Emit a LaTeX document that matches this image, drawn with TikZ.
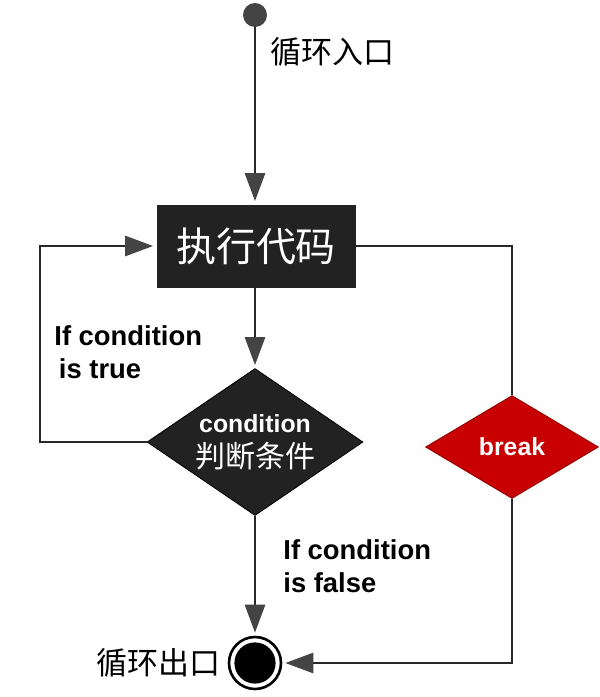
\documentclass[tikz,border=0pt]{standalone}
\usepackage{fontspec}
\setmainfont{Liberation Sans}
\newfontfamily\cjk{Noto Sans CJK SC}
\usetikzlibrary{shapes.geometric, positioning, arrows.meta}
\definecolor{lineclr}{RGB}{40,40,40}
\definecolor{headclr}{RGB}{68,68,68}
\definecolor{boxclr}{RGB}{34,34,34}
\definecolor{breakclr}{RGB}{200,0,0}

\begin{document}
\begin{tikzpicture}[x=0.5pt, y=-0.5pt,
        line/.style={draw=lineclr, line width=1.4pt},
        flow/.style={line, shorten >=1.5pt, -{Triangle[length=14pt, width=10pt, color=headclr]}},
        codebox/.style={rectangle, fill=boxclr, text=white, minimum width=99.5pt,
                minimum height=41.5pt, inner sep=0pt, font=\cjk\fontsize{20pt}{22pt}\selectfont},
        conddiamond/.style={diamond, fill=boxclr, draw=black, thin, text=white, aspect=1.47,
                minimum width=108pt, minimum height=73.5pt, inner sep=0pt, align=center,
                font=\fontsize{12.4pt}{17.5pt}\selectfont},
        breakdiamond/.style={diamond, fill=breakclr, draw=breakclr!70!black, thin, text=white, aspect=1.68,
                minimum width=86.5pt, minimum height=51.5pt, inner sep=0pt,
                font=\bfseries\fontsize{12.4pt}{14pt}\selectfont},
        condlabel/.style={align=left, inner sep=0pt, font=\bfseries\fontsize{13.7pt}{16.5pt}\selectfont},
        cjklabel/.style={inner sep=0pt, font=\cjk\fontsize{15.5pt}{17pt}\selectfont}]
        \useasboundingbox (0,0) rectangle (600,697);

        % Nodes
        \node[circle, fill=headclr, minimum size=12pt, inner sep=0pt] (start) at (255,15) {};
        \node[cjklabel, anchor=west] (inlabel) at (270,52) {循环入口};
        \node[codebox] (code) at (256,246) {执行代码};
        \node[conddiamond] (cond) at (255,442) {\textbf{condition}\\
                {\cjk\fontsize{15pt}{17.5pt}\selectfont 判断条件}};
        \node[breakdiamond] (brk) at (512,447) {break};
        \node[circle, draw=black, line width=1.3pt, minimum size=26pt, inner sep=0pt,
                path picture={\fill[black] (path picture bounding box.center) circle (10.3pt);}] (exit) at (255,663) {};
        \node[cjklabel, left=3.5pt of exit] (outlabel) {循环出口};
        \node[condlabel, anchor=west] (truelbl) at (54,352) {If condition\\\,is true};
        \node[condlabel, anchor=west] (falselbl) at (283,566) {If condition\\is false};
        \coordinate (leftx) at (40,0);

        % Connectors
        \draw[flow] (start) -- (start |- code.north);
        \draw[flow] (code.south -| cond.north) -- (cond.north);
        \draw[flow] (cond.west) -- (cond.west -| leftx) |- (code.west);
        \draw[line] (code.east) -| (brk.north);
        \draw[flow] (cond.south) -- (exit.north);
        \draw[flow] (brk.south) |- (exit.east);
    \end{tikzpicture}
\end{document}
